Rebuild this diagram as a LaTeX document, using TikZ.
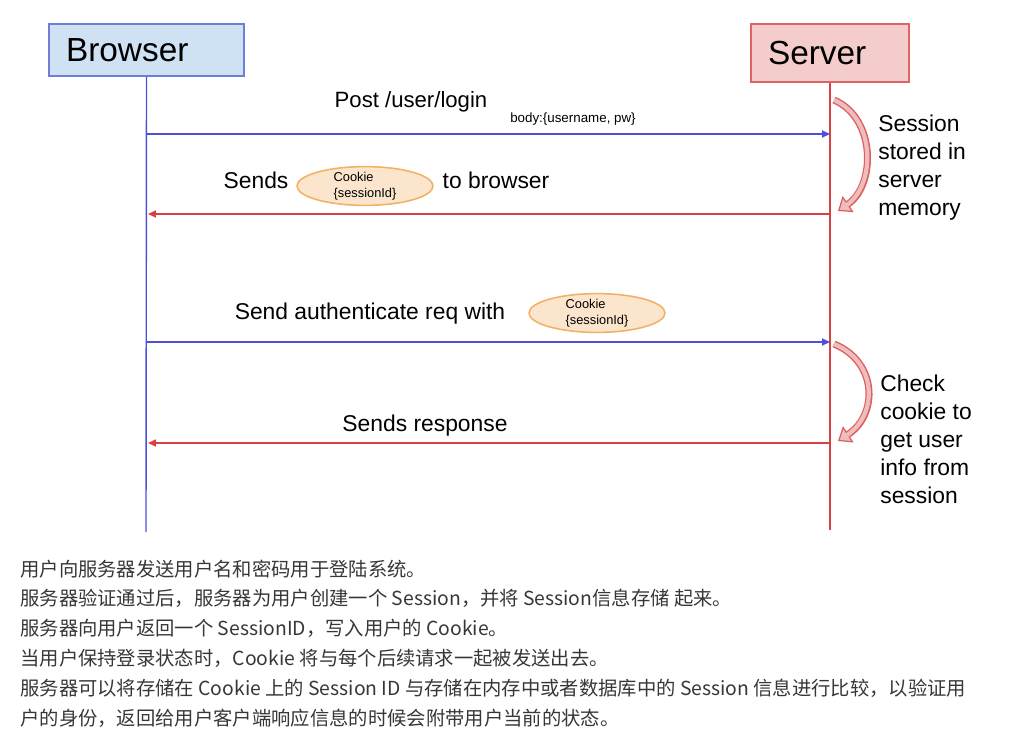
\documentclass[tikz,border=0pt]{standalone}
\usepackage{fontspec}
\setmainfont{Liberation Sans}
\newfontfamily\cjk{Noto Sans CJK SC}
\usetikzlibrary{arrows.meta,shapes.geometric}

\definecolor{bfill}{RGB}{207,226,243}
\definecolor{bdraw}{RGB}{110,125,215}
\definecolor{sfill}{RGB}{244,204,204}
\definecolor{sdraw}{RGB}{222,100,100}
\definecolor{bline}{RGB}{80,80,215}
\definecolor{rline}{RGB}{215,65,65}
\definecolor{ckfill}{RGB}{252,229,205}
\definecolor{ckdraw}{RGB}{240,178,100}
\definecolor{turnfill}{RGB}{238,190,190}
\definecolor{cngray}{RGB}{55,55,55}

\begin{document}
\begin{tikzpicture}[x=0.02cm, y=-0.02cm,
    actor/.style={draw, line width=0.9pt, inner xsep=0.34cm, inner ysep=0pt, align=left,
                  font=\fontsize{19}{22}\selectfont},
    msg/.style={inner sep=0pt, font=\fontsize{13}{15}\selectfont},
    cookie/.style={ellipse, draw=ckdraw, fill=ckfill, line width=0.9pt, inner sep=0pt,
                   minimum width=2.72cm, minimum height=0.74cm, align=left,
                   font=\fontsize{7.3}{8.8}\selectfont},
    note/.style={anchor=north west, inner sep=0pt, align=left, font=\fontsize{13}{15.9}\selectfont},
    cnline/.style={anchor=west, inner sep=0pt, text=cngray, font=\cjk\fontsize{11}{12}\selectfont},
    bmsg/.style={draw=bline, line width=0.7pt, -{Triangle[length=4.5pt,width=4pt]}},
    rmsg/.style={draw=rline, line width=0.7pt, -{Triangle[length=4.5pt,width=4pt]}},
    turn/.style={draw=rline!85, line width=4pt,
                 -{Triangle[length=7pt,width=11pt,fill=turnfill,line width=0.7pt]}},
    turnin/.style={draw=turnfill, line width=2.4pt, shorten >=6pt}]
    \useasboundingbox (0,0) rectangle (1012,737);

    % actors and lifelines
    \node[actor, draw=bdraw, fill=bfill, text width=3.22cm, minimum height=1.04cm] (browser) at (146.5,50) {Browser};
    \node[actor, draw=sdraw, fill=sfill, text width=2.48cm, minimum height=1.16cm] (server) at (830,53) {Server};
    \coordinate (bend) at (146,532);
    \coordinate (send) at (830,530);
    \draw[bline, line width=0.8pt] (browser.south) -- (bend);
    \draw[rline, line width=0.8pt] (server.south) -- (send);

    % messages
    \path (146,134) coordinate (b1) (830,134) coordinate (s1)
          (148,214) coordinate (b2) (830,214) coordinate (s2)
          (146,342) coordinate (b3) (830,342) coordinate (s3)
          (148,443) coordinate (b4) (830,443) coordinate (s4);
    \draw[bmsg] (b1) -- (s1);
    \draw[rmsg] (s2) -- (b2);
    \draw[bmsg] (b3) -- (s3);
    \draw[rmsg] (s4) -- (b4);

    \node[msg, font=\fontsize{12.6}{15}\selectfont] (login) at (411,102) {Post /user/login};
    \node[inner sep=0pt, font=\fontsize{7.6}{9}\selectfont] (body) at (573,119) {body:\{username, pw\}};
    \node[msg] (sends) at (256,180) {Sends};
    \node[cookie] (ck1) at (365,186) {Cookie\\\{sessionId\}};
    \node[msg] (tobrowser) at (496,180) {to browser};
    \node[msg] (auth) at (370,314) {Send authenticate req with};
    \node[cookie] (ck2) at (597,313) {Cookie\\\{sessionId\}};
    \node[msg] (resp) at (425,426) {Sends response};

    % self turns on the server
    \draw[turn] (834,100) .. controls (876,118) and (876,185) .. (838,211);
    \draw[turnin] (834,100) .. controls (876,118) and (876,185) .. (838,211);
    \draw[turn] (834,344) .. controls (878,362) and (878,415) .. (838,441);
    \draw[turnin] (834,344) .. controls (878,362) and (878,415) .. (838,441);
    \node[note] (stored) at (878,115) {Session\\stored in\\server\\memory};
    \node[note] (check) at (880,375) {Check\\cookie to\\get user\\info from\\session};

    % notes below
    \node[cnline] (l1) at (20,569) {用户向服务器发送用户名和密码用于登陆系统。};
    \node[cnline] (l2) at (20,598) {服务器验证通过后，服务器为用户创建一个 Session，并将 Session信息存储 起来。};
    \node[cnline] (l3) at (20,628) {服务器向用户返回一个 SessionID，写入用户的 Cookie。};
    \node[cnline] (l4) at (20,658) {当用户保持登录状态时，Cookie 将与每个后续请求一起被发送出去。};
    \node[cnline] (l5) at (20,688) {服务器可以将存储在 Cookie 上的 Session ID 与存储在内存中或者数据库中的 Session 信息进行比较，以验证用};
    \node[cnline] (l6) at (20,718) {户的身份，返回给用户客户端响应信息的时候会附带用户当前的状态。};
\end{tikzpicture}
\end{document}
